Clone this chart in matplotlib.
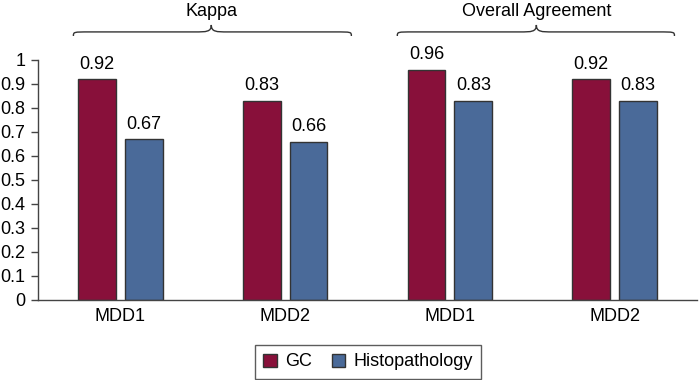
import matplotlib
matplotlib.use("Agg")
import matplotlib.pyplot as plt
from matplotlib.path import Path
from matplotlib.patches import PathPatch
import numpy as np

plt.rcParams['font.family'] = ['Liberation Sans', 'DejaVu Sans']

# data
categories = ["MDD1", "MDD2", "MDD1", "MDD2"]
gc_values = [0.92, 0.83, 0.96, 0.92]
histo_values = [0.67, 0.66, 0.83, 0.83]
groups = ["Kappa", "Overall Agreement"]

gc_color = '#88103a'
histo_color = '#4a6a99'
edge = '#333333'
fs = 13


# curly brace drawn over a group of bars (data x, data y)
def draw_brace(ax, x0, x1, xm, y_end, y_flat, y_tip, r=0.12):
    verts = [
        (x0, y_end), (x0, y_flat), (x0, y_flat), (x0 + r, y_flat),
        (xm - r, y_flat),
        (xm - r * 0.3, y_flat), (xm, y_flat), (xm, y_tip),
        (xm, y_flat), (xm + r * 0.3, y_flat), (xm + r, y_flat),
        (x1 - r, y_flat),
        (x1, y_flat), (x1, y_flat), (x1, y_end),
    ]
    codes = [Path.MOVETO, Path.CURVE4, Path.CURVE4, Path.CURVE4,
             Path.LINETO,
             Path.CURVE4, Path.CURVE4, Path.CURVE4,
             Path.CURVE4, Path.CURVE4, Path.CURVE4,
             Path.LINETO,
             Path.CURVE4, Path.CURVE4, Path.CURVE4]
    patch = PathPatch(Path(verts, codes), facecolor='none', edgecolor='#333333',
                      lw=1.0, clip_on=False)
    ax.add_patch(patch)


fig = plt.figure(figsize=(6.99, 3.8), dpi=100)
ax = fig.add_axes([38 / 699, 80 / 380, 659 / 699, 240 / 380])

x = np.arange(len(categories))
w = 0.23
off = 0.142
b1 = ax.bar(x - off, gc_values, w, color=gc_color, edgecolor=edge, linewidth=1, label='GC')
b2 = ax.bar(x + off, histo_values, w, color=histo_color, edgecolor=edge, linewidth=1,
            label='Histopathology')

for bars, vals in [(b1, gc_values), (b2, histo_values)]:
    for bar, v in zip(bars, vals):
        ax.annotate(f"{v:.2f}", (bar.get_x() + bar.get_width() / 2, v),
                    xytext=(0, 7.5), textcoords='offset points',
                    ha='center', va='baseline', fontsize=fs)

ax.set_xlim(-0.5, 3.5)
ax.set_ylim(0, 1)
ax.set_yticks(np.arange(0, 1.01, 0.1))
ax.set_yticklabels(["0", "0.1", "0.2", "0.3", "0.4", "0.5", "0.6", "0.7", "0.8", "0.9", "1"])
ax.set_xticks(x)
ax.set_xticklabels(categories)
ax.tick_params(axis='y', length=5, width=1, color='#444444', pad=4, labelsize=fs)
ax.tick_params(axis='x', length=0, pad=6, labelsize=fs)
for s in ['top', 'right']:
    ax.spines[s].set_visible(False)
for s in ['left', 'bottom']:
    ax.spines[s].set_color('#444444')
    ax.spines[s].set_linewidth(1)

# group braces
draw_brace(ax, -0.285, 1.402, 0.552, 1.100, 1.117, 1.146, r=0.1)
draw_brace(ax, 1.681, 3.363, 2.525, 1.100, 1.117, 1.146, r=0.1)
ax.text(0.552, 1.204, groups[0], ha='center', va='center', fontsize=fs, clip_on=False)
ax.text(2.525, 1.204, groups[1], ha='center', va='center', fontsize=fs, clip_on=False)

leg = fig.legend(loc='center', bbox_to_anchor=(368 / 699, 1 - 362 / 380), ncol=2,
                 fontsize=fs, frameon=True, fancybox=False, edgecolor='#333333',
                 handlelength=0.75, handleheight=0.75, handletextpad=0.45,
                 columnspacing=1.1, borderpad=0.45, borderaxespad=0)
leg.get_frame().set_linewidth(1)

fig.savefig("out.png", dpi=100)
